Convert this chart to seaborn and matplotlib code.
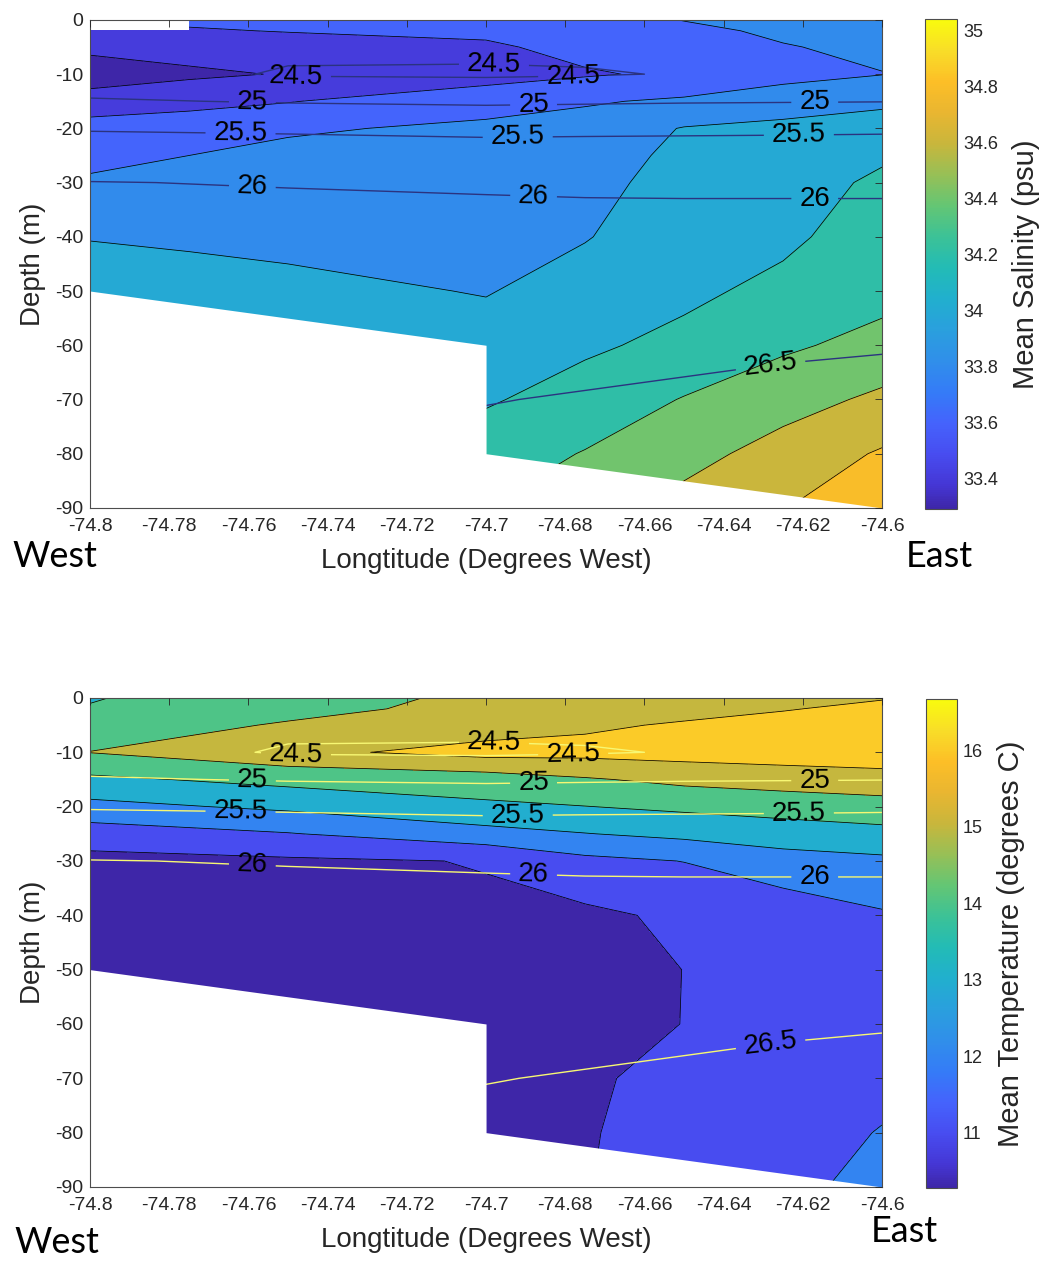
import numpy as np
import matplotlib
matplotlib.use("Agg")
import matplotlib.pyplot as plt
import seaborn as sns
from matplotlib.colors import LinearSegmentedColormap, Normalize
from matplotlib.cm import ScalarMappable
from matplotlib.ticker import FormatStrFormatter

nan = np.nan

# ---------------------------------------------------------------------------
# Section geometry: station longitudes and sampling depths
# ---------------------------------------------------------------------------
longitudes = [-74.8, -74.75, -74.7, -74.675, -74.65, -74.625, -74.6]
salinity_longitudes = [-74.8, -74.775, -74.75, -74.7, -74.675, -74.65, -74.625, -74.6]
depths = [0, -2, -5, -10, -15, -20, -25, -30, -40, -50, -60, -70, -80, -90]

# Salinity profiles (psu), surface to bottom, one list per station
salinity_74800 = [nan, 33.50, 33.43, 33.33, 33.46, 33.70, 33.76, 33.82, 33.99, 34.12, 34.20, 34.25, 34.30, 34.35]
salinity_74775 = [33.64, 33.58, 33.47, 33.37, 33.52, 33.74, 33.80, 33.85, 33.97, 34.08, 34.18, 34.22, 34.28, 34.32]
salinity_74750 = [33.65, 33.61, 33.50, 33.41, 33.59, 33.78, 33.84, 33.88, 33.95, 34.05, 34.15, 34.20, 34.25, 34.30]
salinity_74700 = [33.68, 33.64, 33.57, 33.50, 33.74, 33.83, 33.86, 33.89, 33.94, 33.99, 34.08, 34.18, 34.30, 34.40]
salinity_74675 = [33.72, 33.70, 33.66, 33.58, 33.78, 33.88, 33.92, 33.95, 33.99, 34.08, 34.17, 34.28, 34.41, 34.50]
salinity_74650 = [33.805, 33.76, 33.70, 33.635, 33.83, 34.01, 34.04, 34.06, 34.11, 34.16, 34.25, 34.41, 34.53, 34.67]
salinity_74625 = [33.86, 33.83, 33.79, 33.74, 33.90, 34.05, 34.08, 34.10, 34.16, 34.25, 34.37, 34.52, 34.68, 34.79]
salinity_74600 = [33.90, 33.88, 33.84, 33.795, 33.97, 34.07, 34.17, 34.24, 34.30, 34.34, 34.46, 34.64, 34.82, 34.98]

# Temperature profiles (degrees C)
temperature_74800 = [13.95, 14.05, 14.45, 15.02, 13.80, 12.70, 11.50, 10.70, 10.40, 10.30, 10.30, 10.30, 10.30, 10.30]
temperature_74750 = [14.50, 14.70, 15.10, 15.75, 14.30, 13.20, 11.95, 10.85, 10.45, 10.35, 10.30, 10.30, 10.30, 10.30]
temperature_74700 = [15.24, 15.30, 15.52, 16.35, 14.50, 13.83, 12.64, 11.04, 10.87, 10.50, 10.45, 10.50, 10.55, 10.60]
temperature_74675 = [15.40, 15.55, 15.85, 16.30, 14.90, 13.98, 12.97, 11.75, 10.80, 10.60, 10.55, 10.85, 10.92, 10.95]
temperature_74650 = [15.50, 15.70, 16.10, 16.40, 15.25, 14.20, 13.25, 12.02, 11.18, 11.01, 11.02, 11.32, 11.42, 11.60]
temperature_74625 = [15.70, 15.95, 16.30, 16.50, 15.45, 14.40, 13.50, 12.60, 11.40, 11.30, 11.30, 11.40, 11.55, 11.75]
temperature_74600 = [15.95, 16.20, 16.50, 16.60, 15.60, 14.60, 13.70, 12.80, 11.90, 11.50, 11.50, 11.70, 12.05, 12.30]

# Potential density anomaly (sigma, kg m^-3)
sigma_74800 = [24.80, 24.75, 24.72, 24.70, 25.04, 25.47, 25.75, 26.01, 26.20, 26.30, 26.38, 26.45, 26.49, 26.55]
sigma_74750 = [24.70, 24.65, 24.59, 24.46, 24.97, 25.44, 25.73, 25.98, 26.18, 26.28, 26.36, 26.43, 26.49, 26.55]
sigma_74700 = [24.68, 24.64, 24.60, 24.44, 24.93, 25.40, 25.70, 25.96, 26.14, 26.26, 26.38, 26.49, 26.58, 26.65]
sigma_74675 = [24.66, 24.63, 24.59, 24.47, 24.95, 25.41, 25.71, 25.95, 26.13, 26.27, 26.40, 26.52, 26.60, 26.67]
sigma_74650 = [24.66, 24.62, 24.57, 24.52, 24.97, 25.42, 25.71, 25.95, 26.12, 26.29, 26.43, 26.55, 26.63, 26.70]
sigma_74625 = [24.67, 24.64, 24.60, 24.56, 24.98, 25.43, 25.71, 25.95, 26.12, 26.31, 26.46, 26.58, 26.66, 26.72]
sigma_74600 = [24.68, 24.65, 24.62, 24.58, 24.99, 25.44, 25.72, 25.95, 26.12, 26.33, 26.48, 26.60, 26.68, 26.75]

# Seafloor along the section
seafloor_lon = [-74.8, -74.7, -74.7, -74.6]
seafloor_depth = [-50, -60, -80, -90]

# Contour levels and colour ranges
salinity_levels = [33.4, 33.6, 33.8, 34.0, 34.2, 34.4, 34.6, 34.8, 35.0]
salinity_range = (33.29, 35.04)
salinity_ticks = [33.4, 33.6, 33.8, 34.0, 34.2, 34.4, 34.6, 34.8, 35.0]
temperature_levels = [11, 12, 13, 14, 15, 16]
temperature_range = (10.28, 16.67)
temperature_ticks = [11, 12, 13, 14, 15, 16]
sigma_levels = [24.5, 25.0, 25.5, 26.0, 26.5]

lon_ticks = [-74.8, -74.78, -74.76, -74.74, -74.72, -74.7, -74.68, -74.66, -74.64, -74.62, -74.6]
depth_ticks = [0, -10, -20, -30, -40, -50, -60, -70, -80, -90]

# Where the isopycnal labels sit (lon, depth)
label_spots = [(-74.748, -10.2), (-74.698, -8.2), (-74.678, -10.4),
               (-74.759, -15.2), (-74.688, -15.8), (-74.617, -15.3),
               (-74.762, -20.8), (-74.692, -21.6), (-74.621, -21.7),
               (-74.759, -30.5), (-74.688, -32.5), (-74.617, -33.3),
               (-74.628, -64.5)]

# ---------------------------------------------------------------------------
sns.set_style("white")
plt.rcParams["font.family"] = ["Liberation Sans", "DejaVu Sans"]
plt.rcParams["axes.unicode_minus"] = False

parula = LinearSegmentedColormap.from_list("parula", [
    (0.000, (0.2422, 0.1504, 0.6603)),
    (0.048, (0.2706, 0.2147, 0.8364)),
    (0.111, (0.2813, 0.3006, 0.9414)),
    (0.175, (0.2699, 0.3892, 0.9906)),
    (0.238, (0.2063, 0.4847, 0.9692)),
    (0.302, (0.1887, 0.5603, 0.9159)),
    (0.365, (0.1648, 0.6259, 0.8683)),
    (0.429, (0.1297, 0.6882, 0.8063)),
    (0.492, (0.1364, 0.7352, 0.7116)),
    (0.556, (0.2361, 0.7597, 0.5893)),
    (0.619, (0.3909, 0.7755, 0.4555)),
    (0.683, (0.5926, 0.7508, 0.3380)),
    (0.746, (0.7858, 0.7151, 0.2356)),
    (0.810, (0.9137, 0.7120, 0.1917)),
    (0.873, (0.9893, 0.7475, 0.1526)),
    (0.937, (0.9743, 0.8677, 0.1591)),
    (1.000, (0.9763, 0.9831, 0.0538)),
], N=256)

LON, DEP = np.meshgrid(longitudes, depths)
SAL_LON, SAL_DEP = np.meshgrid(salinity_longitudes, depths)
salinity = np.column_stack([salinity_74800, salinity_74775, salinity_74750, salinity_74700,
                            salinity_74675, salinity_74650, salinity_74625, salinity_74600])
temperature = np.column_stack([temperature_74800, temperature_74750, temperature_74700,
                               temperature_74675, temperature_74650, temperature_74625,
                               temperature_74600])
sigma = np.column_stack([sigma_74800, sigma_74750, sigma_74700, sigma_74675,
                         sigma_74650, sigma_74625, sigma_74600])
salinity = np.ma.masked_invalid(salinity)

ink = "0.15"

fig = plt.figure(figsize=(10.41, 12.61), dpi=100)
fig.patch.set_facecolor("white")


def draw_panel(ax, cax, gx, gy, field, levels, crange, ticks, cbar_label, iso_color):
    vmin, vmax = crange
    norm = Normalize(vmin, vmax)
    bounds = [vmin] + list(levels) + [vmax]
    fills = [parula(norm(b)) for b in bounds[:-1]]
    ax.contourf(gx, gy, field, levels=bounds, colors=fills, corner_mask=False, zorder=1)
    ax.contour(gx, gy, field, levels=levels, colors="k", linewidths=0.55,
               corner_mask=False, zorder=1.5)
    iso = ax.contour(LON, DEP, sigma, levels=sigma_levels, colors=[iso_color],
                     linewidths=1.0, zorder=2)
    ax.fill_between(seafloor_lon, seafloor_depth, -90, color="white", lw=0, zorder=3)
    texts = ax.clabel(iso, manual=label_spots, inline=True, inline_spacing=8,
                      fontsize=20, fmt="%g", colors="k")
    for t in texts:
        t.set_zorder(6)

    ax.set_xlim(-74.8, -74.6)
    ax.set_ylim(-90, 0)
    ax.set_xticks(lon_ticks)
    ax.set_yticks(depth_ticks)
    ax.xaxis.set_major_formatter(FormatStrFormatter("%g"))
    ax.yaxis.set_major_formatter(FormatStrFormatter("%g"))
    ax.tick_params(direction="in", length=5, width=0.6, top=True, right=True,
                   labelsize=14, color=ink, labelcolor=ink)
    ax.tick_params(axis="x", pad=7)
    ax.tick_params(axis="y", pad=5)
    ax.xaxis.set_zorder(10)
    ax.yaxis.set_zorder(10)
    for s in ax.spines.values():
        s.set_zorder(10)
        s.set_linewidth(0.8)
        s.set_edgecolor("0.3")
        s.set_visible(True)
    ax.set_xlabel("Longtitude (Degrees West)", fontsize=20, color=ink)
    ax.set_ylabel("Depth (m)", fontsize=20, color=ink)
    ax.xaxis.set_label_coords(0.5, -0.082)
    ax.yaxis.set_label_coords(-0.056, 0.5)

    cb = fig.colorbar(ScalarMappable(norm=norm, cmap=parula), cax=cax)
    cb.set_ticks(ticks)
    cb.ax.yaxis.set_major_formatter(FormatStrFormatter("%g"))
    cb.ax.tick_params(direction="in", length=4, width=0.6, labelsize=13,
                      color=ink, labelcolor=ink, pad=4)
    cb.outline.set_linewidth(0.8)
    cb.outline.set_edgecolor("0.3")
    cb.set_label(cbar_label, fontsize=21, color=ink, labelpad=10)


ax_top = fig.add_axes([0.0865, 0.5972, 0.7608, 0.3870])
cax_top = fig.add_axes([0.8890, 0.5964, 0.0307, 0.3886])
ax_bot = fig.add_axes([0.0865, 0.0587, 0.7608, 0.3878])
cax_bot = fig.add_axes([0.8895, 0.0579, 0.0298, 0.3878])

draw_panel(ax_top, cax_top, SAL_LON, SAL_DEP, salinity, salinity_levels, salinity_range,
           salinity_ticks, "Mean Salinity (psu)", (0.17, 0.20, 0.50))
draw_panel(ax_bot, cax_bot, LON, DEP, temperature, temperature_levels, temperature_range,
           temperature_ticks, "Mean Temperature (degrees C)", (0.97, 0.97, 0.45))

compass = dict(fontsize=26, family=["Lato", "DejaVu Sans"], color="black", ha="center")
fig.text(0.053, 0.5505, "West", va="baseline", **compass)
fig.text(0.902, 0.5505, "East", va="baseline", **compass)
fig.text(0.055, 0.0062, "West", va="baseline", **compass)
fig.text(0.869, 0.0150, "East", va="baseline", **compass)

fig.savefig("out.png", dpi=100, facecolor="white")
